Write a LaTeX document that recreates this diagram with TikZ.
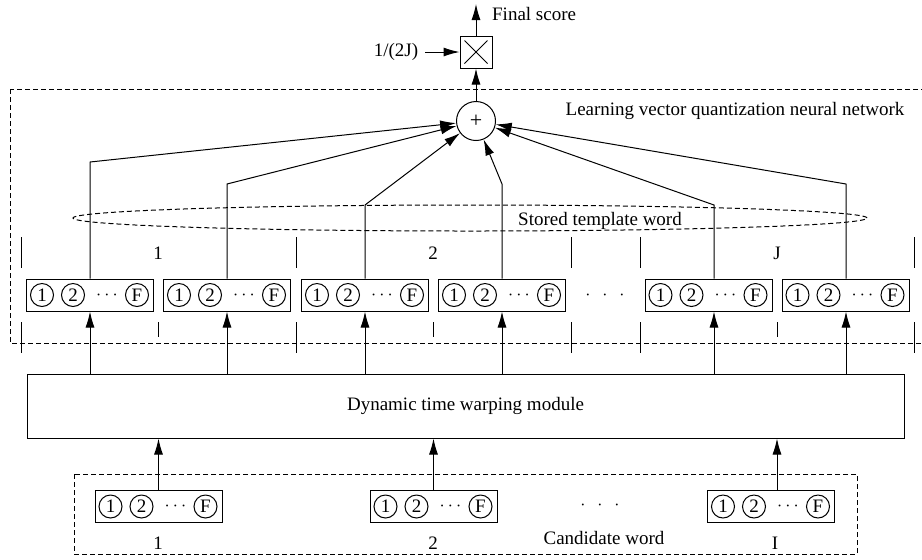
\documentclass[tikz,border=0pt]{standalone}
\usepackage{fontspec}
\setmainfont{Liberation Serif}
\usetikzlibrary{arrows.meta}

% circled units inside one feature vector
\newcommand{\fillvec}[1]{%
  \node[unit] (#1-1) at ([xshift=-24pt]#1.center) {1};
  \node[unit] (#1-2) at ([xshift=-8.5pt]#1.center) {2};
  \node (#1-d) at ([xshift=8.5pt]#1.center) {$\cdots$};
  \node[unit] (#1-f) at ([xshift=23.5pt]#1.center) {F};}

\begin{document}
\begin{tikzpicture}[x=0.5pt,y=-0.5pt,line width=0.5pt,
  every node/.style={font=\fontsize{9.5}{11}\selectfont},
  arr/.style={-{Latex[length=8pt,width=4.5pt]}},
  dashedline/.style={dash pattern=on 2.5pt off 1.5pt},
  vecbox/.style={draw,minimum width=63.5pt,minimum height=16pt,inner sep=0pt},
  unit/.style={draw,circle,minimum size=11.5pt,inner sep=0pt},
  dtwbox/.style={draw,minimum width=438.5pt,minimum height=32pt}]
\useasboundingbox (0,0) rectangle (922,559);
% Frames
\draw[dashedline] (10,89) rectangle (926,343);
\draw[dashedline] (74,474) rectangle (857,554);
\draw[dashedline] (470,218) ellipse [x radius=198.5pt,y radius=6.5pt];
% Product and sum
\node[draw,minimum size=16pt,inner sep=0pt] (prod) at (476,52) {};
\draw ([xshift=2.5pt,yshift=-2.5pt]prod.north west) -- ([xshift=-2.5pt,yshift=2.5pt]prod.south east);
\draw ([xshift=-2.5pt,yshift=-2.5pt]prod.north east) -- ([xshift=2.5pt,yshift=2.5pt]prod.south west);
\node[draw,circle,minimum size=19.5pt,inner sep=0pt,font=\fontsize{11}{12}\selectfont] (sum) at (476,121) {+};
\coordinate (out) at (476,4);
\node[anchor=west] (score) at (485,14) {Final score};
\node (factor) at (396,52) {1/(2J)};
\draw[arr] (sum) -- (prod);
\draw[arr] (prod) -- (out);
\draw[arr] (factor) -- (prod);
% Labels
\node (lvq) at (735,111) {Learning vector quantization neural network};
\node (stored) at (600,221) {Stored template word};
\node[dtwbox] (dtw) at (465.5,406) {Dynamic time warping module};
% Template vectors
\foreach \i/\x in {1/90,2/227,3/365,4/502,5/708.5,6/845.5} {
  \node[vecbox] (v\i) at (\x,295) {};
  \fillvec{v\i}
}
\node (tdots) at (605,295) {$\cdot$\hspace{5.9pt}$\cdot$\hspace{5.9pt}$\cdot$};
% Bends towards the sum
\coordinate (k1) at (90,162);
\coordinate (k2) at (227,184);
\coordinate (k3) at (365,205);
\coordinate (k4) at (502,184);
\coordinate (k5) at (714,205);
\coordinate (k6) at (846,184);
\foreach \i in {1,...,6} {
  \draw[arr] (v\i.north -| k\i) -- (k\i) -- (sum);
  \draw[arr] (dtw.north -| k\i) -- (v\i.south -| k\i);
}
% Group marks
\foreach \x in {21,296,571,640,914} {
  \draw (\x,237) -- (\x,268);
  \draw (\x,322) -- (\x,353);
}
\foreach \x in {158,433,777} \draw (\x,322) -- (\x,337);
\node (g1) at (158,253) {1};
\node (g2) at (433,253) {2};
\node (gJ) at (777,253) {J};
% Candidate vectors
\foreach \i/\x in {1/158.5,2/433.5,3/771} {
  \node[vecbox] (c\i) at (\x,506.5) {};
  \fillvec{c\i}
}
\node (bdots) at (600,505) {$\cdot$\hspace{5.9pt}$\cdot$\hspace{5.9pt}$\cdot$};
\draw[arr] (c1.north) -- (c1.north |- dtw.south);
\draw[arr] (c2.north) -- (c2.north |- dtw.south);
\draw[arr] ([xshift=3pt]c3.north) -- ([xshift=3pt]c3.north |- dtw.south);
\node (n1) at (158,543) {1};
\node (n2) at (433,543) {2};
\node (nI) at (775,543) {I};
\node (cand) at (604,538) {Candidate word};
\end{tikzpicture}
\end{document}
